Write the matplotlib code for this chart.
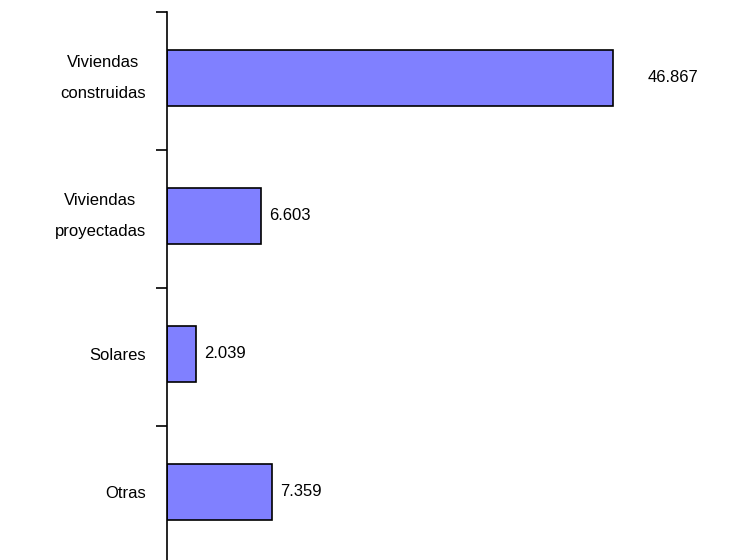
import numpy as np
import matplotlib.pyplot as plt

plt.rcParams['font.family'] = ['Liberation Sans', 'DejaVu Sans']

categorias = ['Viviendas\nconstruidas', 'Viviendas\nproyectadas', 'Solares', 'Otras']
valores = [46.867, 6.603, 2.039, 7.359]
etiquetas = ['46.867', '6.603', '2.039', '7.359']

# the original chart caps the large bar (axis only reaches ~40)
tope = 31.3

fig = plt.figure(figsize=(7.37, 5.60), dpi=100)
ax = fig.add_axes([167 / 737, -4 / 560, 570 / 737, 552 / 560])

n = len(categorias)
y = np.arange(n) - 0.022  # bars sit a touch above the slot centre
ancho = [min(v, tope) for v in valores]
ax.barh(y, ancho, height=0.41, color='#8080FF', edgecolor='black', linewidth=1.2)

for yi, w, v, t in zip(y, ancho, valores, etiquetas):
    dx = 2.4 if v > tope else 0.55
    ax.text(w + dx, yi, t, va='center', ha='left', fontsize=12, color='black')

ax.set_xlim(0, 40)
ax.set_ylim(n - 0.5, -0.5)
ax.set_yticks(y)
ax.set_yticklabels(categorias, fontsize=12, ha='right', multialignment='center', linespacing=2.35)
for lab in ax.get_yticklabels():
    if '\n' in lab.get_text():
        lab.set_va('center')
ax.tick_params(axis='y', which='major', length=0, pad=15)
ax.set_yticks(np.arange(-0.5, n), minor=True)
ax.tick_params(axis='y', which='minor', length=8, width=1.2, direction='out')
ax.set_xticks([])

for s in ['top', 'right', 'bottom']:
    ax.spines[s].set_visible(False)
ax.spines['left'].set_linewidth(1.2)

fig.savefig('out.png', dpi=100)
